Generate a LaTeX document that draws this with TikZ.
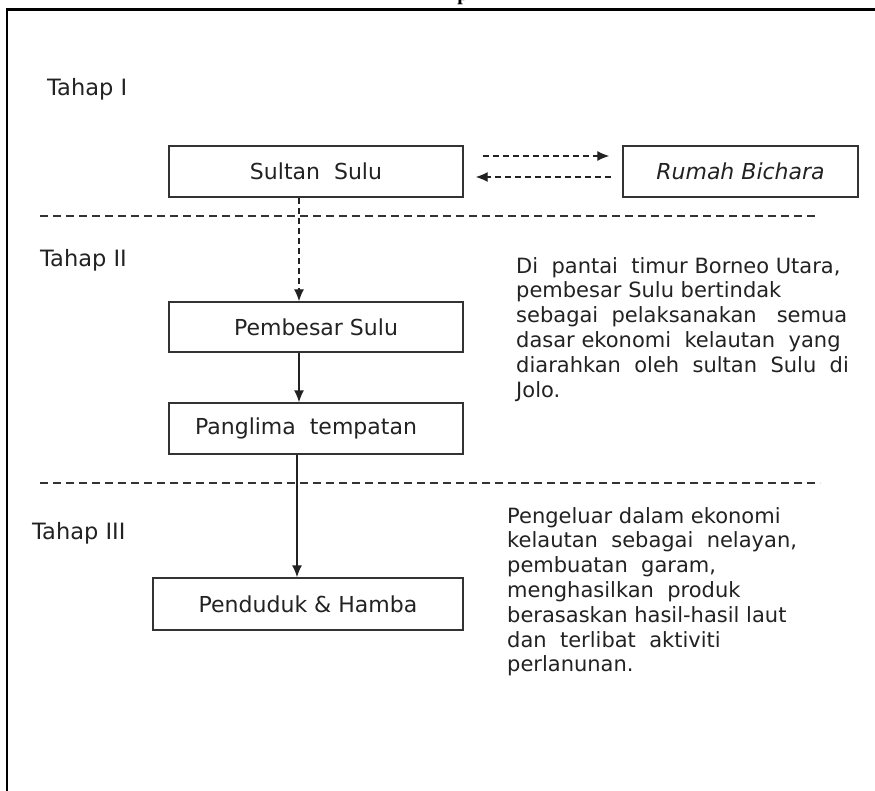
\documentclass[tikz,border=0pt]{standalone}
\usepackage{fontspec}
\setmainfont{DejaVu Sans}
\newfontfamily\titlefont{Liberation Serif}
\usetikzlibrary{arrows.meta}
\definecolor{ink}{HTML}{222222}
\definecolor{edge}{HTML}{333333}
\tikzset{
  boxnode/.style={draw=edge, line width=1.4pt, inner sep=0pt, text=ink,
    font=\fontsize{22}{26}\selectfont},
  stagelbl/.style={anchor=base west, inner sep=0pt, text=ink,
    font=\fontsize{22.5}{26}\selectfont},
  bodyline/.style={anchor=base west, inner sep=0pt, text=ink,
    font=\fontsize{21}{25}\selectfont},
  sepline/.style={draw=edge, line width=1.3pt, dash pattern=on 8pt off 5pt},
  dashconn/.style={draw=ink, line width=1.3pt, dash pattern=on 6pt off 4pt,
    -{Latex[length=12pt,width=10pt]}},
  solidconn/.style={draw=ink, line width=1.4pt, -{Latex[length=12pt,width=10pt]}}
}
\begin{document}
\begin{tikzpicture}[x=1pt,y=-1pt]
\path[use as bounding box] (0,0) rectangle (875,790);
\clip (0,0) rectangle (875,790);
\fill[white] (0,0) rectangle (875,790);

% cropped title and frame
\node[font=\titlefont\bfseries\fontsize{20}{24}\selectfont, anchor=base, inner sep=0pt] (title) at (463,0.5) {p};
\draw[line width=2.4pt, black] (7,800) -- (7,9.5) -- (890,9.5);

% stage labels
\node[stagelbl] (t1) at (47,95) {Tahap I};
\node[stagelbl] (t2) at (40,266) {Tahap II};
\node[stagelbl] (t3) at (32,539) {Tahap III};

% boxes
\node[boxnode, minimum width=294pt, minimum height=51pt] (sultan) at (316,171.5) {Sultan\ \ Sulu};
\node[boxnode, minimum width=235pt, minimum height=51pt, font=\fontsize{22}{26}\selectfont\itshape] (rumah) at (740.5,171.5) {Rumah Bichara};
\node[boxnode, minimum width=294pt, minimum height=50pt] (pemb) at (316,327) {Pembesar Sulu};
\node[boxnode, minimum width=294pt, minimum height=51pt] (pang) at (316,428.5) {\hspace*{-20pt}Panglima\ \ tempatan};
\node[boxnode, minimum width=310pt, minimum height=52pt] (pend) at (308,604) {Penduduk \& Hamba};

% separators
\coordinate (s1a) at (40,216);
\coordinate (s1b) at (818,216);
\coordinate (s2a) at (40,483);
\coordinate (s2b) at (820,483);
\draw[sepline] (s1a) -- (s1b);
\draw[sepline] (s2a) -- (s2b);

% connectors
\draw[dashconn] ([shift={(19pt,15.5pt)}]sultan.east) -- ([shift={(-13pt,15.5pt)}]rumah.west);
\draw[dashconn] ([shift={(-11pt,-5.5pt)}]rumah.west) -- ([shift={(12pt,-5.5pt)}]sultan.east);
\draw[dashconn] ([xshift=-17pt]sultan.south) -- ([xshift=-17pt]pemb.north);
\draw[solidconn] ([xshift=-17pt]pemb.south) -- ([xshift=-17pt]pang.north);
\draw[solidconn] ([xshift=-19pt]pang.south) -- ([xshift=-11pt]pend.north);

% description texts
\foreach \txt [count=\i] in {{Di\ \ pantai\ \ timur\ Borneo\ Utara,},
  {pembesar Sulu bertindak},
  {sebagai\ \ pelaksanakan\ \ \ semua},
  {dasar ekonomi\ \ kelautan\ \ yang},
  {diarahkan\ \ oleh\ \ sultan\ \ Sulu\ \ di},
  {Jolo.}}{
  \node[bodyline] (da\i) at (516,{273+24.8*(\i-1)}) {\txt};
}
\foreach \txt [count=\i] in {{Pengeluar\ dalam\ ekonomi},
  {kelautan\ \ sebagai\ \ nelayan,},
  {pembuatan\ \ garam,},
  {menghasilkan\ \ produk},
  {berasaskan hasil-hasil laut},
  {dan\ \ terlibat\ \ aktiviti},
  {perlanunan.}}{
  \node[bodyline] (db\i) at (507,{523+24.8*(\i-1)}) {\txt};
}
\end{tikzpicture}
\end{document}
